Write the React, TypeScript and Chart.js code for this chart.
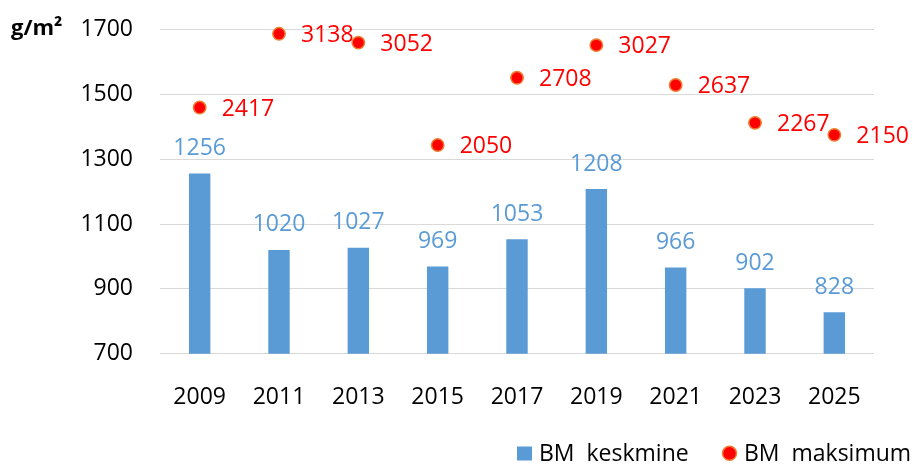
import React, { useEffect, useRef } from "react";
import { Chart, registerables } from "chart.js";

Chart.register(...registerables);

const years = ["2009", "2011", "2013", "2015", "2017", "2019", "2021", "2023", "2025"];
const keskmine = [1256, 1020, 1027, 969, 1053, 1208, 966, 902, 828];
const maksimum = [2417, 3138, 3052, 2050, 2708, 3027, 2637, 2267, 2150];
const yTicks = [700, 900, 1100, 1300, 1500, 1700];
const seriesLabels = ["BM  keskmine", "BM  maksimum"];
const unitLabel = "g/m²";

const FONT = "'Open Sans', sans-serif";
const FS = 23;
const BLUE = "#5B9BD5";
const RED = "#FF0000";
const ORANGE = "#ED7D31";

const labelsPlugin = {
  id: "valueLabels",
  afterDatasetsDraw(chart: any) {
    const ctx: CanvasRenderingContext2D = chart.ctx;
    ctx.save();
    ctx.font = `${FS}px ${FONT}`;
    // bar labels
    const m0 = chart.getDatasetMeta(0);
    ctx.fillStyle = BLUE;
    ctx.textAlign = "center";
    ctx.textBaseline = "alphabetic";
    m0.data.forEach((el: any, i: number) => {
      ctx.fillText(String(chart.data.datasets[0].data[i]), el.x, el.y - 18.5);
    });
    // point labels
    const m1 = chart.getDatasetMeta(1);
    ctx.fillStyle = RED;
    ctx.textAlign = "left";
    ctx.textBaseline = "middle";
    m1.data.forEach((el: any, i: number) => {
      ctx.fillText(String(chart.data.datasets[1].data[i]), el.x + 22, el.y + 1.5);
    });
    // unit label
    ctx.font = `bold 22px ${FONT}`;
    ctx.fillStyle = "#000";
    ctx.textBaseline = "alphabetic";
    ctx.fillText(unitLabel, 11, 34.5);
    // legend
    const ds = chart.data.datasets;
    ctx.font = `${FS}px ${FONT}`;
    ctx.fillStyle = ds[0].backgroundColor;
    ctx.fillRect(517, 446.5, 15, 14);
    ctx.fillStyle = "#000";
    ctx.fillText(ds[0].label, 539, 460.5);
    ctx.beginPath();
    ctx.arc(729.5, 453.3, 7, 0, Math.PI * 2);
    ctx.fillStyle = ds[1].pointBackgroundColor;
    ctx.fill();
    ctx.lineWidth = 1.5;
    ctx.strokeStyle = ds[1].pointBorderColor;
    ctx.stroke();
    ctx.fillStyle = "#000";
    ctx.fillText(ds[1].label, 744, 460.5);
    ctx.restore();
  },
};

export default function App() {
  const ref = useRef<HTMLCanvasElement>(null);
  useEffect(() => {
    const chart = new Chart(ref.current!, {
      type: "bar",
      data: {
        labels: years,
        datasets: [
          {
            type: "bar",
            label: seriesLabels[0],
            data: keskmine,
            backgroundColor: BLUE,
            borderWidth: 0,
            barPercentage: 0.27,
            categoryPercentage: 1,
            yAxisID: "y",
            order: 2,
          } as any,
          {
            type: "line",
            label: seriesLabels[1],
            data: maksimum,
            showLine: false,
            clip: false,
            pointRadius: 6.2,
            pointBorderWidth: 1.5,
            pointBackgroundColor: RED,
            pointBorderColor: ORANGE,
            yAxisID: "y1",
            order: 1,
          } as any,
        ],
      },
      options: {
        responsive: false,
        devicePixelRatio: 1,
        animation: false,
        layout: { padding: { top: 29.5, right: 39, bottom: 50.3, left: 0 } },
        plugins: { legend: { display: false }, tooltip: { enabled: false }, title: { display: false } },
        scales: {
          x: {
            grid: { display: false },
            border: { display: false },
            ticks: { color: "#000", font: { family: FONT, size: FS }, padding: 22, maxRotation: 0 },
            afterFit: (s: any) => { s.height = 60; },
          },
          y: {
            min: yTicks[0],
            max: yTicks[yTicks.length - 1],
            afterBuildTicks: (s: any) => { s.ticks = yTicks.map((v) => ({ value: v })); },
            grid: { color: "#D9D9D9", lineWidth: 1, drawTicks: false },
            border: { display: false },
            ticks: {
              color: "#000",
              font: { family: FONT, size: FS },
              padding: 27,
              callback: (v: any) => String(v),
            },
            afterFit: (s: any) => {
              s.width = 160;
              s.paddingTop = 0;
              s.paddingBottom = 0;
            },
          },
          y1: {
            display: false,
            min: 10,
            max: 3180,
          },
        },
      } as any,
      plugins: [labelsPlugin],
    });
    return () => chart.destroy();
  }, []);
  return (
    <div style={{ position: "fixed", left: 0, top: 0, width: 913, height: 464, background: "#fff" }}>
      <canvas ref={ref} width={913} height={464} style={{ display: "block", width: 913, height: 464 }} />
    </div>
  );
}
